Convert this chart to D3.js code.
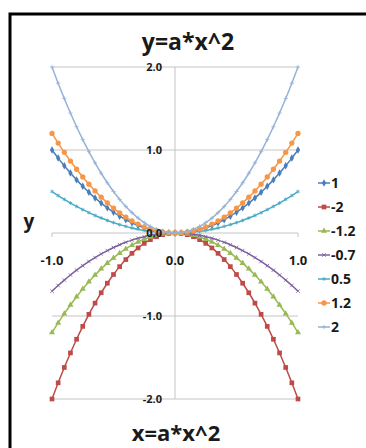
<!DOCTYPE html>
<html>
<head>
<meta charset="utf-8">
<script src="https://cdn.jsdelivr.net/npm/d3@7"></script>
<style>
  body { margin: 0; background: #fff; }
  text { font-family: "Open Sans", sans-serif; font-weight: bold; fill: #1a1a1a; }
</style>
</head>
<body>
<div id="chart"></div>
<script>
// Data
const xValues = [-1, -0.95, -0.9, -0.85, -0.8, -0.75, -0.7, -0.65, -0.6, -0.55, -0.5, -0.45, -0.4, -0.35, -0.3, -0.25, -0.2, -0.15, -0.1, -0.05, 0,
  0.05, 0.1, 0.15, 0.2, 0.25, 0.3, 0.35, 0.4, 0.45, 0.5, 0.55, 0.6, 0.65, 0.7, 0.75, 0.8, 0.85, 0.9, 0.95, 1]

const seriesNames = ['1', '-2', '-1.2', '-0.7', '0.5', '1.2', '2']

const values1 = [1, 0.9025, 0.81, 0.7225, 0.64, 0.5625, 0.49, 0.4225, 0.36, 0.3025, 0.25, 0.2025, 0.16, 0.1225, 0.09, 0.0625, 0.04, 0.0225, 0.01, 0.0025, 0,
  0.0025, 0.01, 0.0225, 0.04, 0.0625, 0.09, 0.1225, 0.16, 0.2025, 0.25, 0.3025, 0.36, 0.4225, 0.49, 0.5625, 0.64, 0.7225, 0.81, 0.9025, 1]
const valuesNeg2 = [-2, -1.805, -1.62, -1.445, -1.28, -1.125, -0.98, -0.845, -0.72, -0.605, -0.5, -0.405, -0.32, -0.245, -0.18, -0.125, -0.08, -0.045, -0.02, -0.005, 0,
  -0.005, -0.02, -0.045, -0.08, -0.125, -0.18, -0.245, -0.32, -0.405, -0.5, -0.605, -0.72, -0.845, -0.98, -1.125, -1.28, -1.445, -1.62, -1.805, -2]
const valuesNeg12 = [-1.2, -1.083, -0.972, -0.867, -0.768, -0.675, -0.588, -0.507, -0.432, -0.363, -0.3, -0.243, -0.192, -0.147, -0.108, -0.075, -0.048, -0.027, -0.012, -0.003, 0,
  -0.003, -0.012, -0.027, -0.048, -0.075, -0.108, -0.147, -0.192, -0.243, -0.3, -0.363, -0.432, -0.507, -0.588, -0.675, -0.768, -0.867, -0.972, -1.083, -1.2]
const valuesNeg07 = [-0.7, -0.632, -0.567, -0.506, -0.448, -0.394, -0.343, -0.296, -0.252, -0.212, -0.175, -0.142, -0.112, -0.086, -0.063, -0.044, -0.028, -0.016, -0.007, -0.002, 0,
  -0.002, -0.007, -0.016, -0.028, -0.044, -0.063, -0.086, -0.112, -0.142, -0.175, -0.212, -0.252, -0.296, -0.343, -0.394, -0.448, -0.506, -0.567, -0.632, -0.7]
const values05 = [0.5, 0.451, 0.405, 0.361, 0.32, 0.281, 0.245, 0.211, 0.18, 0.151, 0.125, 0.101, 0.08, 0.061, 0.045, 0.031, 0.02, 0.011, 0.005, 0.001, 0,
  0.001, 0.005, 0.011, 0.02, 0.031, 0.045, 0.061, 0.08, 0.101, 0.125, 0.151, 0.18, 0.211, 0.245, 0.281, 0.32, 0.361, 0.405, 0.451, 0.5]
const values12 = [1.2, 1.083, 0.972, 0.867, 0.768, 0.675, 0.588, 0.507, 0.432, 0.363, 0.3, 0.243, 0.192, 0.147, 0.108, 0.075, 0.048, 0.027, 0.012, 0.003, 0,
  0.003, 0.012, 0.027, 0.048, 0.075, 0.108, 0.147, 0.192, 0.243, 0.3, 0.363, 0.432, 0.507, 0.588, 0.675, 0.768, 0.867, 0.972, 1.083, 1.2]
const values2 = [2, 1.805, 1.62, 1.445, 1.28, 1.125, 0.98, 0.845, 0.72, 0.605, 0.5, 0.405, 0.32, 0.245, 0.18, 0.125, 0.08, 0.045, 0.02, 0.005, 0,
  0.005, 0.02, 0.045, 0.08, 0.125, 0.18, 0.245, 0.32, 0.405, 0.5, 0.605, 0.72, 0.845, 0.98, 1.125, 1.28, 1.445, 1.62, 1.805, 2]

const yTicks = [2, 1, 0, -1, -2]
const xTicks = [-1, 0, 1]

const colors = ['#4a7ebb', '#be4b48', '#98b954', '#7d60a0', '#46aac5', '#f79646', '#95b3d7']
const symbols = [d3.symbolDiamond, d3.symbolSquare, d3.symbolTriangle, d3.symbolTimes, d3.symbolAsterisk, d3.symbolCircle, d3.symbolPlus]
const symbolSizes = [16, 22, 16, 10, 10, 22, 7]
const strokeSymbol = [false, false, false, true, true, false, true]

const allValues = [values1, valuesNeg2, valuesNeg12, valuesNeg07, values05, values12, values2]
const series = seriesNames.map((name, i) => ({
  name,
  color: colors[i],
  points: xValues.map((x, j) => ({x, y: allValues[i][j]}))
}))

//Dimensions
const width = 366
const height = 448
const plot = {left: 52, right: 298, top: 67, bottom: 399}

// Scales
const xScale = d3.scaleLinear().domain([-1, 1]).range([plot.left, plot.right])
const yScale = d3.scaleLinear().domain([-2, 2]).range([plot.bottom, plot.top])

const svg = d3.select('#chart')
  .append('svg')
  .attr('width', width)
  .attr('height', height)

// frame
svg.append('rect')
  .attr('x', 10).attr('y', 14)
  .attr('width', 420).attr('height', 480)
  .attr('fill', 'none')
  .attr('stroke', '#000')
  .attr('stroke-width', 3)

// gridlines
svg.append('g')
  .selectAll('line')
  .data(yTicks)
  .join('line')
  .attr('x1', plot.left).attr('x2', plot.right)
  .attr('y1', d => yScale(d)).attr('y2', d => yScale(d))
  .attr('stroke', '#c4c4c4')
  .attr('stroke-width', 1)

// vertical axis at x=0
svg.append('line')
  .attr('x1', xScale(0)).attr('x2', xScale(0))
  .attr('y1', plot.top).attr('y2', plot.bottom)
  .attr('stroke', '#c4c4c4')

// x tick marks
svg.append('g')
  .selectAll('line')
  .data(xTicks)
  .join('line')
  .attr('x1', d => xScale(d)).attr('x2', d => xScale(d))
  .attr('y1', yScale(0)).attr('y2', yScale(0) + 4)
  .attr('stroke', '#c4c4c4')

// series
const line = d3.line()
  .x(d => xScale(d.x))
  .y(d => yScale(d.y))
  .curve(d3.curveMonotoneX)

series.forEach((s, i) => {
  const g = svg.append('g')
  g.append('path')
    .datum(s.points)
    .attr('d', line)
    .attr('fill', 'none')
    .attr('stroke', s.color)
    .attr('stroke-width', 1.5)
  g.selectAll('path.m')
    .data(s.points)
    .join('path')
    .attr('class', 'm')
    .attr('transform', d => `translate(${xScale(d.x)},${yScale(d.y)})`)
    .attr('d', d3.symbol(symbols[i], symbolSizes[i]))
    .attr('fill', strokeSymbol[i] ? 'none' : s.color)
    .attr('stroke', strokeSymbol[i] ? s.color : 'none')
    .attr('stroke-width', 0.8)
})

// y tick labels
svg.append('g')
  .selectAll('text')
  .data(yTicks)
  .join('text')
  .attr('x', xScale(0) - 13)
  .attr('y', d => yScale(d))
  .attr('dy', '0.35em')
  .attr('text-anchor', 'end')
  .style('font-size', '11px')
  .text(d => d3.format('.1f')(d).replace('\u2212', '-'))

// x tick labels
svg.append('g')
  .selectAll('text')
  .data(xTicks)
  .join('text')
  .attr('x', d => xScale(d))
  .attr('y', 265)
  .attr('text-anchor', 'middle')
  .style('font-size', '13px')
  .text(d => d3.format('.1f')(d).replace('\u2212', '-'))

// titles
svg.append('text')
  .attr('x', 188).attr('y', 50)
  .attr('text-anchor', 'middle')
  .style('font-size', '23px')
  .text('y=a*x^2')

svg.append('text')
  .attr('x', 176).attr('y', 441)
  .attr('text-anchor', 'middle')
  .style('font-size', '22px')
  .text('x=a*x^2')

svg.append('text')
  .attr('x', 29).attr('y', 228)
  .attr('text-anchor', 'middle')
  .style('font-size', '19px')
  .text('y')

// legend
const legend = svg.append('g')
  .selectAll('g')
  .data(series)
  .join('g')
  .attr('transform', (d, i) => `translate(318, ${183 + i * 24})`)

legend.append('line')
  .attr('x1', 0).attr('x2', 12)
  .attr('stroke', d => d.color)
  .attr('stroke-width', 1.5)

legend.append('path')
  .attr('transform', 'translate(6,0)')
  .attr('d', (d, i) => d3.symbol(symbols[i], symbolSizes[i])())
  .attr('fill', (d, i) => strokeSymbol[i] ? 'none' : d.color)
  .attr('stroke', (d, i) => strokeSymbol[i] ? d.color : 'none')
  .attr('stroke-width', 0.8)

legend.append('text')
  .attr('x', 13)
  .attr('dy', '0.35em')
  .style('font-size', '14px')
  .text(d => d.name)
</script>
</body>
</html>
